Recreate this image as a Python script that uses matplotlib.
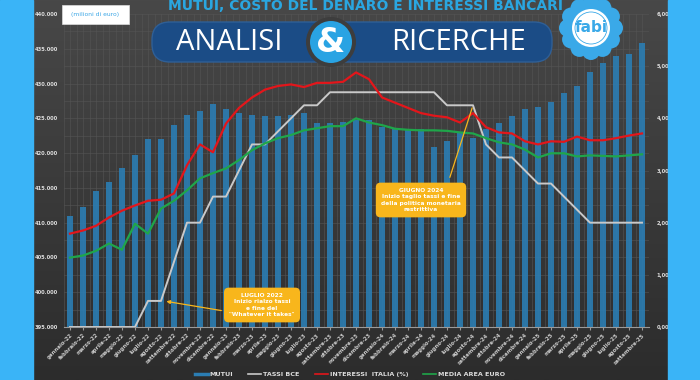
"""Mutui, costo del denaro e interessi bancari (FABI - Analisi & Ricerche)."""

import numpy as np
import matplotlib.pyplot as plt
from matplotlib.colors import LinearSegmentedColormap
from matplotlib.patches import Rectangle, Circle, FancyBboxPatch
from matplotlib.lines import Line2D
from matplotlib.ticker import FuncFormatter

MONTHS = ["gennaio", "febbraio", "marzo", "aprile", "maggio", "giugno",
          "luglio", "agosto", "settembre", "ottobre", "novembre", "dicembre"]
YEARS = ["22", "23", "24", "25"]
LABELS = [f"{m}-{y}" for y in YEARS for m in MONTHS][:45]

# stock mutui, milioni di euro
MUTUI = [411000, 412300, 414500, 415800, 417800, 419800, 422000, 422000,
         424000, 425500, 426000, 427000, 426300, 425800, 425500, 425300,
         425300, 425500, 425800, 424300, 424300, 424500, 424800, 424800,
         423700, 423400, 423400, 423400, 420900, 421700, 423000, 422200,
         423400, 424400, 425300, 426300, 426600, 427400, 428700, 429700,
         431600, 432900, 433900, 434200, 435900]

# tassi (%)
TASSI_BCE = [0, 0, 0, 0, 0, 0, 0.5, 0.5, 1.25, 2.0, 2.0, 2.5, 2.5, 3.0, 3.5,
             3.5, 3.75, 4.0, 4.25, 4.25, 4.5, 4.5, 4.5, 4.5, 4.5, 4.5, 4.5,
             4.5, 4.5, 4.25, 4.25, 4.25, 3.5, 3.25, 3.25, 3.0, 2.75, 2.75,
             2.5, 2.25, 2.0, 2.0, 2.0, 2.0, 2.0]
INTERESSI_ITALIA = [1.79, 1.85, 1.94, 2.10, 2.23, 2.33, 2.42, 2.44, 2.56,
                    3.10, 3.50, 3.35, 3.90, 4.20, 4.40, 4.55, 4.62, 4.65,
                    4.60, 4.68, 4.68, 4.70, 4.88, 4.75, 4.40, 4.30, 4.20,
                    4.10, 4.05, 4.02, 3.92, 4.10, 3.83, 3.73, 3.71, 3.56,
                    3.50, 3.56, 3.55, 3.65, 3.58, 3.58, 3.62, 3.67, 3.71]
MEDIA_EURO = [1.33, 1.37, 1.46, 1.60, 1.48, 1.98, 1.79, 2.27, 2.42, 2.62,
              2.85, 2.95, 3.04, 3.20, 3.39, 3.52, 3.62, 3.68, 3.77, 3.81,
              3.85, 3.85, 4.00, 3.92, 3.87, 3.80, 3.78, 3.77, 3.77, 3.76,
              3.73, 3.71, 3.62, 3.54, 3.50, 3.40, 3.25, 3.33, 3.33, 3.27,
              3.29, 3.28, 3.27, 3.29, 3.31]

COLORS = {
    "bar": "#2b7db3",
    "bce": "#c9c9c9",
    "ita": "#e3161b",
    "euro": "#1fa64a",
    "note": "#f8b61c",
    "strip": "#3ab4f7",
    "title": "#2aa6e0",
    "banner": "#1b4c86",
}
W, H = 700, 380

fig = plt.figure(figsize=(7, 3.8), dpi=100)

# --- sfondo sfumato ---
bg = fig.add_axes([0, 0, 1, 1], zorder=0)
grad = np.linspace(0, 1, 256).reshape(-1, 1)
bg.imshow(grad, aspect="auto",
          cmap=LinearSegmentedColormap.from_list("bg", ["#484848", "#2c2c2c"]),
          extent=(0, 1, 0, 1), origin="upper")
bg.axis("off")

# --- grafico ---
x = np.arange(len(MUTUI))
ax = fig.add_axes([63.5 / W, 1 - 327 / H, 585 / W, 313 / H], zorder=1)
ax.patch.set_visible(False)
ax.bar(x, MUTUI, width=0.5, color=COLORS["bar"], alpha=0.9, zorder=2)
ax.set_ylim(395000, 440000)
ax.set_xlim(-0.5, len(MUTUI) - 0.5)
ax.set_yticks(np.arange(395000, 440001, 5000))
ax.yaxis.set_major_formatter(FuncFormatter(lambda v, _: f"{v:,.0f}".replace(",", ".")))
ax.set_yticks(np.arange(395000, 440001, 2500), minor=True)
ax.set_xticks(x)
ax.set_xticklabels(LABELS, rotation=45, ha="right", rotation_mode="anchor",
                   fontsize=3.9, color="#c8c8c8", fontweight="bold")
ax.set_xticks(x - 0.5, minor=True)
ax.grid(True, which="both", color="#555555", linewidth=0.4, zorder=0)
ax.tick_params(axis="y", which="both", labelsize=3.7, colors="#dddddd", length=0, pad=4)
ax.tick_params(axis="x", which="major", length=2, color="#999999", pad=2)
ax.tick_params(axis="x", which="minor", length=0)
for lab in ax.get_yticklabels():
    lab.set_fontweight("bold")
for side in ["top", "left", "right"]:
    ax.spines[side].set_visible(False)
ax.spines["bottom"].set_color("#9a9a9a")
ax.spines["bottom"].set_linewidth(0.8)

ax2 = ax.twinx()
ax2.plot(x, TASSI_BCE, color=COLORS["bce"], linewidth=1.4, zorder=3)
ax2.plot(x, INTERESSI_ITALIA, color=COLORS["ita"], linewidth=1.6, zorder=4)
ax2.plot(x, MEDIA_EURO, color=COLORS["euro"], linewidth=1.6, zorder=4)
ax2.set_ylim(0, 6)
ax2.set_yticks(np.arange(0, 6.01, 1))
ax2.yaxis.set_major_formatter(FuncFormatter(lambda v, _: f"{v:.2f}".replace(".", ",")))
ax2.tick_params(axis="y", labelsize=3.7, colors="#dddddd", length=0, pad=6)
for lab in ax2.get_yticklabels():
    lab.set_fontweight("bold")
for side in ["top", "left", "right", "bottom"]:
    ax2.spines[side].set_visible(False)

# --- annotazioni ---
note_kw = dict(ha="center", va="center", fontsize=4.2, color="white",
               fontweight="bold", linespacing=1.35,
               bbox=dict(boxstyle="round,pad=0.9,rounding_size=0.8",
                         facecolor=COLORS["note"], edgecolor="none"))
ax2.annotate("", xy=(7.2, 0.5), xycoords="data",
             xytext=(224 / W, 1 - 311 / H), textcoords="figure fraction",
             arrowprops=dict(arrowstyle="-|>", color=COLORS["note"], lw=0.9,
                             mutation_scale=5), zorder=6)
fig.text(262 / W, 1 - 305 / H,
         'LUGLIO 2022\nInizio rialzo tassi\ne fine del\n"Whatever it takes"',
         zorder=7, **note_kw)
ax2.annotate("", xy=(31, 4.25), xycoords="data",
             xytext=(449 / W, 1 - 180 / H), textcoords="figure fraction",
             arrowprops=dict(arrowstyle="-", color=COLORS["note"], lw=0.9), zorder=6)
fig.text(421 / W, 1 - 200 / H,
         "GIUGNO 2024\nInizio taglio tassi e fine\ndella politica monetaria\nrestrittiva",
         zorder=7, **note_kw)

# --- decorazioni in pixel ---
ov = fig.add_axes([0, 0, 1, 1], zorder=5)
ov.set_xlim(0, W)
ov.set_ylim(H, 0)
ov.axis("off")
ov.add_patch(Rectangle((0, 0), 33, H, color=COLORS["strip"]))
ov.add_patch(Rectangle((668, 0), 32, H, color=COLORS["strip"]))

ov.text(366, 6, "MUTUI, COSTO DEL DENARO E INTERESSI BANCARI", ha="center",
        va="center", fontsize=10, fontweight="bold", color=COLORS["title"])

ov.add_patch(Rectangle((62, 5), 67, 19, facecolor="white", edgecolor="#dddddd", lw=0.5))
ov.text(95.5, 14.5, "(milioni di euro)", ha="center", va="center",
        fontsize=4.3, color="#3aa6e6")

ov.add_patch(FancyBboxPatch((152, 22), 400, 40, boxstyle="round,pad=0,rounding_size=18",
                            facecolor=COLORS["banner"], edgecolor="#2f5f96", lw=1.0))
ov.text(229, 43, "ANALISI", ha="center", va="center", fontsize=21,
        color="white", family="Open Sans")
ov.text(459, 43, "RICERCHE", ha="center", va="center", fontsize=21,
        color="white", family="Open Sans")
ov.add_patch(Circle((331, 42), 25, facecolor="#3d3d3d", edgecolor="none"))
ov.add_patch(Circle((331, 42), 21, facecolor="#29a3e3", edgecolor="none"))
ov.text(331, 43, "&", ha="center", va="center", fontsize=24, fontweight="bold",
        color="white")

# logo fabi
cx, cy = 591, 28
for ang in np.linspace(0, 2 * np.pi, 12, endpoint=False):
    ov.add_patch(Circle((cx + 23 * np.cos(ang), cy + 23 * np.sin(ang)), 9,
                        facecolor="#3aa9e8", edgecolor="none"))
ov.add_patch(Circle((cx, cy), 24, facecolor="#3aa9e8", edgecolor="none"))
ov.add_patch(Circle((cx, cy), 19, facecolor="white", edgecolor="none"))
ov.add_patch(Circle((cx, cy), 16, facecolor="none", edgecolor="#3aa9e8", lw=0.6))
ov.text(cx, cy, "fabi", ha="center", va="center", fontsize=11,
        fontweight="bold", color="#3aa9e8")

# --- legenda ---
handles = [
    Line2D([], [], color=COLORS["bar"], lw=2.5),
    Line2D([], [], color=COLORS["bce"], lw=1.2),
    Line2D([], [], color=COLORS["ita"], lw=1.2),
    Line2D([], [], color=COLORS["euro"], lw=1.2),
]
leg = fig.legend(handles, ["MUTUI", "TASSI BCE", "INTERESSI  ITALIA (%)", "MEDIA AREA EURO"],
                 loc="center", bbox_to_anchor=(350 / W, 1 - 374 / H), ncol=4,
                 frameon=False, fontsize=4.6, handlelength=2.0, handletextpad=0.3,
                 columnspacing=2.4)
for t in leg.get_texts():
    t.set_color("#dddddd")
    t.set_fontweight("bold")
leg.set_zorder(8)

fig.savefig("out.png", dpi=100, facecolor="#3a3a3a")
